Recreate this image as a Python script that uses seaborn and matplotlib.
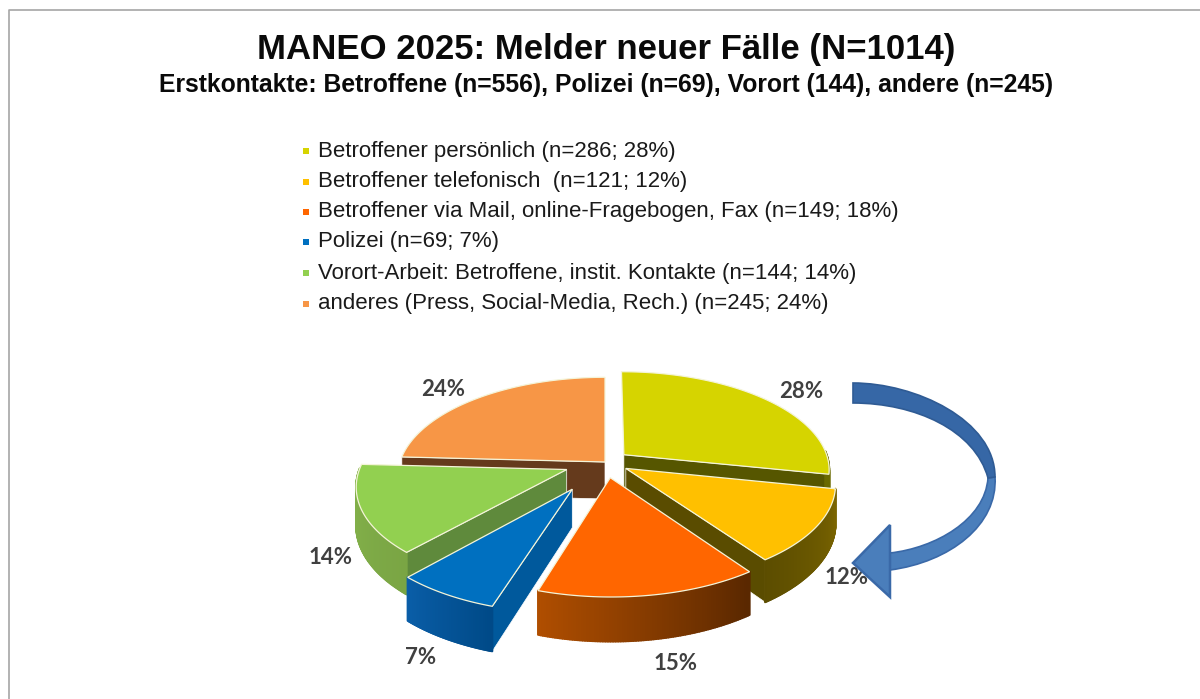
import numpy as np
import matplotlib
matplotlib.use("Agg")
import matplotlib.pyplot as plt
import seaborn as sns
from matplotlib.collections import PolyCollection
from matplotlib.colors import to_rgb
from matplotlib.patches import PathPatch
from matplotlib.path import Path

# values from the chart
title = "MANEO 2025: Melder neuer Fälle (N=1014)"
subtitle = "Erstkontakte: Betroffene (n=556), Polizei (n=69), Vorort (144), andere (n=245)"
legend_labels = [
    "Betroffener persönlich (n=286; 28%)",
    "Betroffener telefonisch  (n=121; 12%)",
    "Betroffener via Mail, online-Fragebogen, Fax (n=149; 18%)",
    "Polizei (n=69; 7%)",
    "Vorort-Arbeit: Betroffene, instit. Kontakte (n=144; 14%)",
    "anderes (Press, Social-Media, Rech.) (n=245; 24%)",
]
counts = [286, 121, 149, 69, 144, 245]
pct_labels = ["28%", "12%", "15%", "7%", "14%", "24%"]

# styling
top_colors = ["#d6d400", "#ffc000", "#ff6600", "#0070c0", "#92d050", "#f79646"]
cut_colors = ["#565600", "#5a4c00", "#8a3c00", "#00599c", "#5f8a3c", "#653a1c"]
wall_start = ["#6b6b00", "#5c4d00", "#b04e00", "#0a5ea8", "#86b54c", "#7a4a22"]
wall_end = ["#5a5a00", "#7a6400", "#5a2800", "#004a88", "#7aa544", "#7a4a22"]
explode = [0.12, 0.12, 0.16, 0.31, 0.20, 0.0]
draw_order = [5, 0, 4, 1, 3, 2]
label_xy = [(801, 392), (847, 577), (676, 664), (421, 657), (331, 557), (443, 389)]
legend_y = [151, 182, 212, 242, 273, 304]

CX, CY = 605, 462
RX, RY = 205, 97
DEPTH = 37
K = 0.145


def project(x, y, z=0.0):
    s = 1 / (1 + K * np.asarray(y))
    return np.column_stack([CX + RX * np.asarray(x) * s, CY - RY * np.asarray(y) * s + z * s])


sns.set_theme(style="white")
plt.rcParams["font.family"] = ["Liberation Sans", "DejaVu Sans"]

fig = plt.figure(figsize=(12, 6.99), dpi=100)
ax = fig.add_axes([0, 0, 1, 1])

palette = sns.color_palette(top_colors)
wedges = ax.pie(counts, startangle=90, counterclock=False, explode=explode, colors=palette)[0]
ax.set_aspect("auto")

for i in draw_order:
    w = wedges[i]
    w.set_visible(False)
    x0, y0 = w.center
    t = np.radians(np.linspace(w.theta1, w.theta2, 90))
    rim_x, rim_y = x0 + np.cos(t), y0 + np.sin(t)

    # cut faces, only the ones turned to the viewer
    for j, normal in ((0, t[0] - np.pi / 2), (-1, t[-1] + np.pi / 2)):
        if np.sin(normal) > -0.01:
            continue
        ex, ey = [x0, rim_x[j]], [y0, rim_y[j]]
        face = np.vstack([project(ex, ey), project(ex, ey, DEPTH)[::-1]])
        ax.fill(face[:, 0], face[:, 1], fc=cut_colors[i], ec="#ffffff", lw=0.5, zorder=2)

    # rim with gradient, front part only
    top = project(rim_x, rim_y)
    low = project(rim_x, rim_y, DEPTH)
    a, b = np.array(to_rgb(wall_start[i])), np.array(to_rgb(wall_end[i]))
    strips, cols = [], []
    for k, f in enumerate(np.linspace(0, 1, len(t) - 1)):
        if np.sin(t[k]) < 0.02:
            strips.append(np.vstack([top[k], top[k + 1], low[k + 1], low[k]]))
            cols.append(a + (b - a) * f)
    if strips:
        ax.add_collection(PolyCollection(strips, facecolors=cols, edgecolors=cols, linewidths=1.5, zorder=2))

    # top face
    face = project(np.r_[x0, rim_x], np.r_[y0, rim_y])
    ax.fill(face[:, 0], face[:, 1], fc=palette[i], ec="#f4f4d8", lw=0.9, zorder=2)

for (lx, ly), txt in zip(label_xy, pct_labels):
    ax.text(lx, ly, txt, ha="center", va="center", fontsize=16, fontweight="bold",
            family=["Lato", "DejaVu Sans"], color="#404040", zorder=3)

# curved arrow
M, C, L, Z = Path.MOVETO, Path.CURVE4, Path.LINETO, Path.CLOSEPOLY
upper = Path([(853, 383), (915, 383), (995, 420), (995, 477), (988, 478),
              (975, 430), (915, 403), (853, 403), (853, 383)],
             [M, C, C, C, L, C, C, C, Z])
lower = Path([(995, 477), (998, 525), (950, 562), (890, 570), (890, 553),
              (935, 548), (985, 520), (988, 478), (995, 477)],
             [M, C, C, C, L, C, C, C, Z])
head = Path([(890, 525), (853, 563), (890, 597), (890, 525)], [M, L, L, Z])
ax.add_patch(PathPatch(lower, fc="#4a7ebb", ec="#3a69a8", lw=1.2, zorder=4))
ax.add_patch(PathPatch(upper, fc="#3667a6", ec="#2f5b94", lw=1.2, zorder=4))
ax.add_patch(PathPatch(head, fc="#4a7ebb", ec="#3a69a8", lw=1.8, zorder=5))

# legend
sns.scatterplot(x=[306] * len(legend_y), y=legend_y, hue=legend_labels, hue_order=legend_labels,
                palette=palette, marker="s", s=20, linewidth=0, legend=False, ax=ax)
for y, txt in zip(legend_y, legend_labels):
    ax.text(318, y, txt, ha="left", va="center", fontsize=16.05, color="#1a1a1a")

ax.text(606, 50, title, ha="center", va="center", fontsize=25, fontweight="bold", color="#0a0a0a")
ax.text(606, 85, subtitle, ha="center", va="center", fontsize=17.85, fontweight="bold", color="#0a0a0a")

# page frame
ax.plot([9, 9, 1200], [699, 10, 10], color="#a6a6a6", lw=1.2, zorder=1)

ax.set_xlim(0, 1200)
ax.set_ylim(699, 0)
ax.set_xlabel("")
ax.set_ylabel("")
ax.axis("off")
fig.savefig("out.png", dpi=100)
